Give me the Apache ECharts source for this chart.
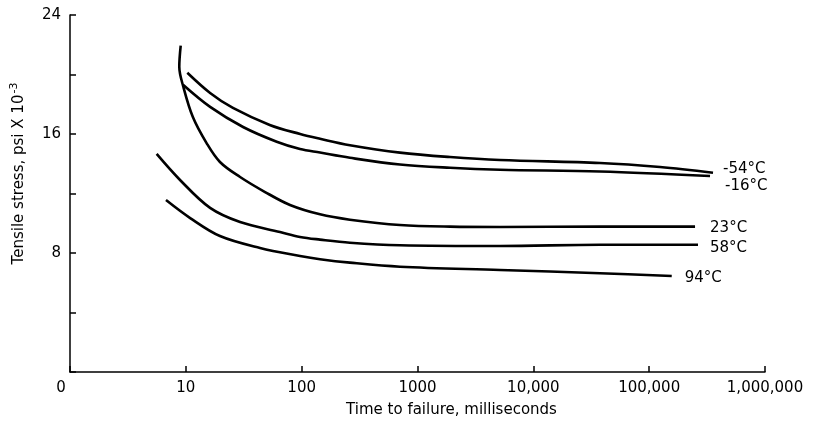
<!DOCTYPE html>
<html>
<head>
<meta charset="utf-8">
<script src="https://cdn.jsdelivr.net/npm/echarts@6/dist/echarts.min.js"></script>
<style>html,body{margin:0;padding:0;background:#fff}#c{width:815px;height:428px}</style>
</head>
<body>
<div id="c"></div>
<script>
// Time to failure (ms) and tensile stress (psi x 10^-3) per temperature
const labels = ['-54°C', '-16°C', '23°C', '58°C', '94°C'];

const tM54 = [10.3, 16.2, 25.5, 53, 97, 144, 261, 706, 1909, 5156, 37640, 124100, 355800];
const sM54 = [20.12, 18.76, 17.75, 16.61, 16.0, 15.68, 15.25, 14.75, 14.45, 14.25, 14.05, 13.78, 13.40];

const tM16 = [9.51, 16.2, 31.2, 60.9, 96.8, 144, 261, 706, 1909, 5156, 37640, 335300];
const sM16 = [19.29, 17.82, 16.47, 15.48, 14.99, 14.75, 14.40, 13.95, 13.73, 13.60, 13.48, 13.18];

const t23 = [9.03, 8.78, 9.51, 11.5, 15.1, 19.7, 29.4, 48.3, 79.3, 144, 261, 706, 1909, 5156, 37640, 248900];
const s23 = [21.94, 20.52, 19.18, 17.14, 15.39, 14.12, 13.11, 12.10, 11.23, 10.6, 10.24, 9.88, 9.77, 9.75, 9.77, 9.77];

const t58 = [5.60, 8.91, 16.2, 29.4, 65.0, 96.8, 144, 261, 706, 5156, 37640, 264100];
const s58 = [14.66, 12.91, 11.03, 10.08, 9.41, 9.08, 8.90, 8.69, 8.52, 8.47, 8.55, 8.55];

const t94 = [6.74, 10.9, 19.7, 43.7, 96.8, 144, 261, 706, 5156, 37640, 156600];
const s94 = [11.56, 10.35, 9.14, 8.34, 7.80, 7.58, 7.35, 7.08, 6.86, 6.64, 6.45];

const xTickLabels = {1: '0', 10: '10', 100: '100', 1000: '1000', 10000: '10,000', 100000: '100,000', 1000000: '1,000,000'};
const yTickLabels = {0: '', 8: '8', 16: '16', 24: '24'};

const allT = [tM54, tM16, t23, t58, t94];
const allS = [sM54, sM16, s23, s58, s94];
const labelOffsets = [[10, -4], [15, 10], [15, 1], [12, 3], [13, 2]];

const FONT = 'DejaVu Sans';
const chart = echarts.init(document.getElementById('c'), null, {renderer: 'canvas'});

const series = allT.map((t, i) => ({
  type: 'line',
  name: labels[i],
  data: t.map((v, j) => [v, allS[i][j]]),
  showSymbol: false,
  smooth: 0.35,
  lineStyle: {color: '#000', width: 2.6},
  endLabel: {
    show: true,
    formatter: labels[i],
    color: '#000',
    fontFamily: FONT,
    fontSize: 15,
    distance: 0,
    offset: labelOffsets[i]
  },
  animation: false
}));

chart.setOption({
  animation: false,
  backgroundColor: '#fff',
  grid: {left: 70, right: 50, top: 15, bottom: 56},
  xAxis: {
    type: 'log',
    logBase: 10,
    min: 1,
    max: 1000000,
    name: 'Time to failure, milliseconds',
    nameLocation: 'middle',
    nameGap: 31,
    nameTextStyle: {color: '#000', fontFamily: FONT, fontSize: 15, padding: [0, 0, 0, 68]},
    axisLine: {show: true, lineStyle: {color: '#000', width: 1.5}},
    axisTick: {show: true, inside: true, length: 6, lineStyle: {color: '#000', width: 1.5}},
    minorTick: {show: false},
    splitLine: {show: false},
    axisLabel: {
      color: '#000', fontFamily: FONT, fontSize: 15, margin: 9,
      showMaxLabel: true, showMinLabel: true,
      formatter: function (v) {
        const k = Math.round(v);
        if (k === 1) return '{z|0}';
        return xTickLabels[k] !== undefined ? xTickLabels[k] : '';
      },
      rich: {z: {color: '#000', fontFamily: FONT, fontSize: 15, padding: [0, 18, 0, 0]}}
    }
  },
  yAxis: {
    type: 'value',
    min: 0,
    max: 24,
    interval: 4,
    name: '{a|Tensile stress, psi X 10}{s|-3}',
    nameLocation: 'middle',
    nameRotate: 90,
    nameGap: 40,
    nameTextStyle: {
      color: '#000', fontFamily: FONT, fontSize: 15, padding: [0, 0, 0, 40],
      rich: {
        a: {color: '#000', fontFamily: FONT, fontSize: 15},
        s: {color: '#000', fontFamily: FONT, fontSize: 11, verticalAlign: 'bottom', padding: [0, 0, 10, 1]}
      }
    },
    axisLine: {show: true, lineStyle: {color: '#000', width: 1.5}},
    axisTick: {show: true, inside: true, length: 6, lineStyle: {color: '#000', width: 1.5}},
    splitLine: {show: false},
    axisLabel: {
      color: '#000', fontFamily: FONT, fontSize: 15, margin: 9,
      formatter: function (v) { return yTickLabels[v] !== undefined ? yTickLabels[v] : ''; }
    }
  },
  series: series
});
</script>
</body>
</html>
